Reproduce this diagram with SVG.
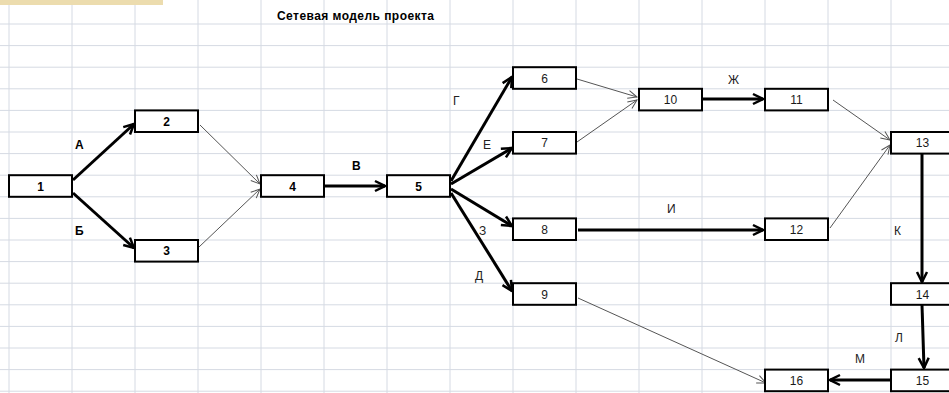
<svg xmlns="http://www.w3.org/2000/svg" width="949" height="393" viewBox="0 0 949 393">
<defs>
<style>
.grid line{stroke:#d5dae3;stroke-width:1}
.node rect{fill:#fff;stroke:#000;stroke-width:2}
.node text{font-family:"Liberation Sans",Arial,sans-serif;font-size:12px;text-anchor:middle;fill:#1a1a1a}
.b text{font-weight:bold;fill:#000}
.lbl{font-family:"Liberation Sans",Arial,sans-serif;font-size:12px;fill:#222}
.lb{font-weight:bold;fill:#000}
.thick{stroke:#000;stroke-width:3;fill:none;marker-end:url(#ah)}
.thin{stroke:#555;stroke-width:1;fill:none;marker-end:url(#at)}
</style>
<marker id="ah" markerUnits="userSpaceOnUse" viewBox="0 0 14 14" markerWidth="14" markerHeight="14" refX="12" refY="7" orient="auto">
<path d="M2,2 L12,7 L2,12" fill="none" stroke="#000" stroke-width="2.5"/>
</marker>
<marker id="at" markerUnits="userSpaceOnUse" viewBox="0 0 12 12" markerWidth="12" markerHeight="12" refX="11" refY="6" orient="auto">
<path d="M2,2 L11,6 L2,10" fill="none" stroke="#555" stroke-width="1"/>
</marker>
</defs>
<rect width="949" height="393" fill="#fff"/>
<g class="grid">
<line x1="9" y1="0" x2="9" y2="393"/><line x1="72" y1="0" x2="72" y2="393"/><line x1="135" y1="0" x2="135" y2="393"/><line x1="198" y1="0" x2="198" y2="393"/><line x1="261" y1="0" x2="261" y2="393"/><line x1="324" y1="0" x2="324" y2="393"/><line x1="387" y1="0" x2="387" y2="393"/><line x1="450" y1="0" x2="450" y2="393"/><line x1="513" y1="0" x2="513" y2="393"/><line x1="576" y1="0" x2="576" y2="393"/><line x1="639" y1="0" x2="639" y2="393"/><line x1="702" y1="0" x2="702" y2="393"/><line x1="765" y1="0" x2="765" y2="393"/><line x1="828" y1="0" x2="828" y2="393"/><line x1="891" y1="0" x2="891" y2="393"/>
<line x1="0" y1="24" x2="949" y2="24"/><line x1="0" y1="45.6" x2="949" y2="45.6"/><line x1="0" y1="67.2" x2="949" y2="67.2"/><line x1="0" y1="88.8" x2="949" y2="88.8"/><line x1="0" y1="110.4" x2="949" y2="110.4"/><line x1="0" y1="132" x2="949" y2="132"/><line x1="0" y1="153.6" x2="949" y2="153.6"/><line x1="0" y1="175.2" x2="949" y2="175.2"/><line x1="0" y1="196.8" x2="949" y2="196.8"/><line x1="0" y1="218.4" x2="949" y2="218.4"/><line x1="0" y1="240" x2="949" y2="240"/><line x1="0" y1="261.6" x2="949" y2="261.6"/><line x1="0" y1="283.2" x2="949" y2="283.2"/><line x1="0" y1="304.8" x2="949" y2="304.8"/><line x1="0" y1="326.4" x2="949" y2="326.4"/><line x1="0" y1="348" x2="949" y2="348"/><line x1="0" y1="369.6" x2="949" y2="369.6"/><line x1="0" y1="391.2" x2="949" y2="391.2"/>
</g>
<rect x="0" y="0" width="163" height="5" fill="#ecdcae"/>
<text x="277" y="20" class="lbl lb" textLength="157">Сетевая модель проекта</text>
<g id="connectors">
<line class="thick" x1="73" y1="180" x2="134" y2="124"/>
<line class="thick" x1="73" y1="193" x2="134" y2="248"/>
<line class="thin" x1="200" y1="125" x2="260" y2="184"/>
<line class="thin" x1="199" y1="247" x2="260" y2="189"/>
<line class="thick" x1="325" y1="186" x2="385" y2="186"/>
<line class="thick" x1="451" y1="181" x2="512" y2="77"/>
<line class="thick" x1="451" y1="184" x2="512" y2="148"/>
<line class="thick" x1="451" y1="189" x2="512" y2="226"/>
<line class="thick" x1="451" y1="193" x2="512" y2="291"/>
<line class="thin" x1="577" y1="79" x2="637" y2="97"/>
<line class="thin" x1="577" y1="142" x2="637" y2="100"/>
<line class="thick" x1="703" y1="99" x2="763" y2="99"/>
<line class="thin" x1="833" y1="100" x2="890" y2="140"/>
<line class="thin" x1="830" y1="228" x2="890" y2="145"/>
<line class="thick" x1="578" y1="230" x2="763" y2="230"/>
<line class="thin" x1="578" y1="298" x2="766" y2="383"/>
<line class="thick" x1="922" y1="154" x2="922" y2="282"/>
<line class="thick" x1="922" y1="305" x2="924" y2="368"/>
<line class="thick" x1="891" y1="380" x2="830" y2="380"/>
</g>
<g id="labels">
<text x="75" y="149" class="lbl lb">А</text>
<text x="75" y="235" class="lbl lb">Б</text>
<text x="352" y="170" class="lbl lb">В</text>
<text x="453" y="105" class="lbl">Г</text>
<text x="483" y="149" class="lbl">Е</text>
<text x="479" y="235" class="lbl">З</text>
<text x="475" y="280" class="lbl">Д</text>
<text x="728" y="84" class="lbl">Ж</text>
<text x="667" y="213" class="lbl">И</text>
<text x="894" y="235" class="lbl">К</text>
<text x="895" y="342" class="lbl">Л</text>
<text x="855" y="363" class="lbl">М</text>
</g>
<g id="n1" class="node b"><rect x="9" y="175.2" width="63" height="21.6"/><text x="40.5" y="190.5">1</text></g>
<g id="n2" class="node b"><rect x="135" y="110.4" width="63" height="21.6"/><text x="166.5" y="125.7">2</text></g>
<g id="n3" class="node b"><rect x="135" y="240" width="63" height="21.6"/><text x="166.5" y="255.3">3</text></g>
<g id="n4" class="node b"><rect x="261" y="175.2" width="63" height="21.6"/><text x="292.5" y="190.5">4</text></g>
<g id="n5" class="node b"><rect x="387" y="175.2" width="63" height="21.6"/><text x="418.5" y="190.5">5</text></g>
<g id="n6" class="node"><rect x="513" y="67.2" width="63" height="21.6"/><text x="544.5" y="82.5">6</text></g>
<g id="n7" class="node"><rect x="513" y="132" width="63" height="21.6"/><text x="544.5" y="147.3">7</text></g>
<g id="n8" class="node"><rect x="513" y="218.4" width="63" height="21.6"/><text x="544.5" y="233.7">8</text></g>
<g id="n9" class="node"><rect x="513" y="283.2" width="63" height="21.6"/><text x="544.5" y="298.5">9</text></g>
<g id="n10" class="node"><rect x="639" y="88.8" width="63" height="21.6"/><text x="670.5" y="104.1">10</text></g>
<g id="n11" class="node"><rect x="765" y="88.8" width="63" height="21.6"/><text x="796.5" y="104.1">11</text></g>
<g id="n12" class="node"><rect x="765" y="218.4" width="63" height="21.6"/><text x="796.5" y="233.7">12</text></g>
<g id="n13" class="node"><rect x="891" y="132" width="63" height="21.6"/><text x="922.5" y="147.3">13</text></g>
<g id="n14" class="node"><rect x="891" y="283.2" width="63" height="21.6"/><text x="922.5" y="298.5">14</text></g>
<g id="n15" class="node"><rect x="891" y="369.6" width="63" height="21.6"/><text x="922.5" y="384.9">15</text></g>
<g id="n16" class="node"><rect x="765" y="369.6" width="63" height="21.6"/><text x="796.5" y="384.9">16</text></g>
</svg>
